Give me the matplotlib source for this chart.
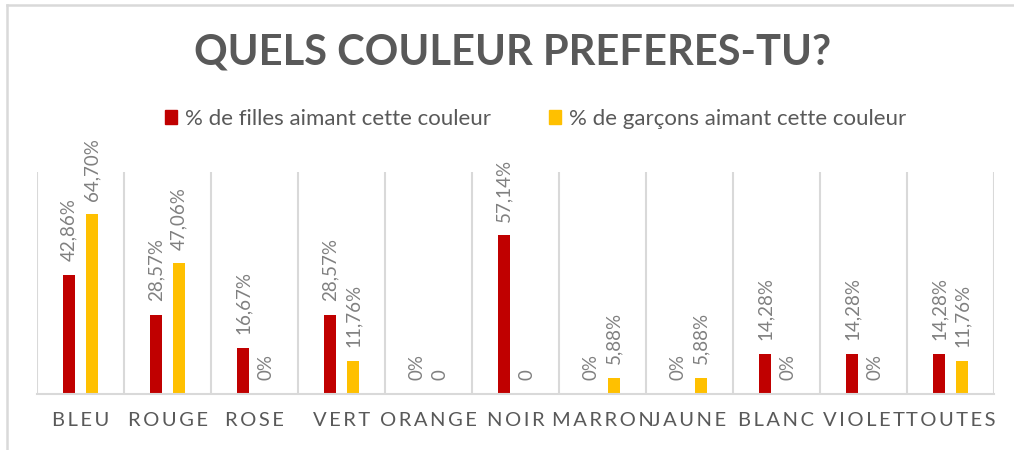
import matplotlib.pyplot as plt
from matplotlib.lines import Line2D
from matplotlib.patches import Patch
import numpy as np

# chart data
categories = ['BLEU', 'ROUGE', 'ROSE', 'VERT', 'ORANGE', 'NOIR',
              'MARRON', 'JAUNE', 'BLANC', 'VIOLET', 'TOUTES']
filles = [42.86, 28.57, 16.67, 28.57, 0, 57.14, 0, 0, 14.28, 14.28, 14.28]
garcons = [64.70, 47.06, 0, 11.76, 0, 0, 5.88, 5.88, 0, 0, 11.76]
labels_filles = ['42,86%', '28,57%', '16,67%', '28,57%', '0%', '57,14%',
                 '0%', '0%', '14,28%', '14,28%', '14,28%']
labels_garcons = ['64,70%', '47,06%', '0%', '11,76%', '0', '0',
                  '5,88%', '5,88%', '0%', '0%', '11,76%']
legend_labels = ['% de filles aimant cette couleur',
                 '% de garçons aimant cette couleur']
title = 'QUELS COULEUR PREFERES-TU?'

red = '#C00000'
yellow = '#FFC000'
grid_col = '#D9D9D9'
text_col = '#595959'
label_col = '#808080'

plt.rcParams['font.family'] = ['Lato', 'DejaVu Sans']

fig = plt.figure(figsize=(10.14, 4.5), dpi=100)
ax = fig.add_axes([37 / 1014, 1 - 394 / 450, (994 - 37) / 1014, (394 - 172) / 450])

x = np.arange(len(categories))
w = 0.14
off = 0.133
b1 = ax.bar(x - off, filles, w, color=red)
b2 = ax.bar(x + off, garcons, w, color=yellow)

ax.bar_label(b1, labels=labels_filles, rotation=90, padding=10,
             color=label_col, fontsize=13.5)
ax.bar_label(b2, labels=labels_garcons, rotation=90, padding=10,
             color=label_col, fontsize=13.5)

ax.set_xlim(-0.5, len(categories) - 0.5)
ax.set_ylim(0, 80)
ax.set_yticks([])
for xb in np.arange(-0.5, len(categories), 1.0):
    ax.axvline(xb, color=grid_col, lw=1.5, zorder=0)
for s in ['top', 'right', 'left']:
    ax.spines[s].set_visible(False)
ax.spines['bottom'].set_color(grid_col)
ax.spines['bottom'].set_linewidth(1.5)

# letter-spaced category names, like the original
ax.set_xticks(x)
ax.set_xticklabels(['\u2009'.join(c) for c in categories], fontsize=14.5,
                   color=text_col)
ax.tick_params(axis='x', length=0, pad=13)

fig.text(0.505, 1 - 53 / 450, title, ha='center', va='center',
         fontsize=30, fontweight='bold', color=text_col)

handles = [Patch(color=red), Patch(color=yellow)]
fig.legend(handles, legend_labels, loc='center', ncol=2,
           bbox_to_anchor=(0.528, 1 - 119 / 450), frameon=False,
           fontsize=16, labelcolor=text_col, handlelength=0.55,
           handleheight=0.55, handletextpad=0.35, columnspacing=2.6)

# outer chart border (only top and left visible in the crop)
fig.add_artist(Line2D([7 / 1014, 1], [1 - 4.5 / 450, 1 - 4.5 / 450],
                      color=grid_col, lw=1.8, transform=fig.transFigure))
fig.add_artist(Line2D([7 / 1014, 7 / 1014], [0, 1 - 4.5 / 450],
                      color=grid_col, lw=1.8, transform=fig.transFigure))

fig.savefig('out.png', dpi=100)
